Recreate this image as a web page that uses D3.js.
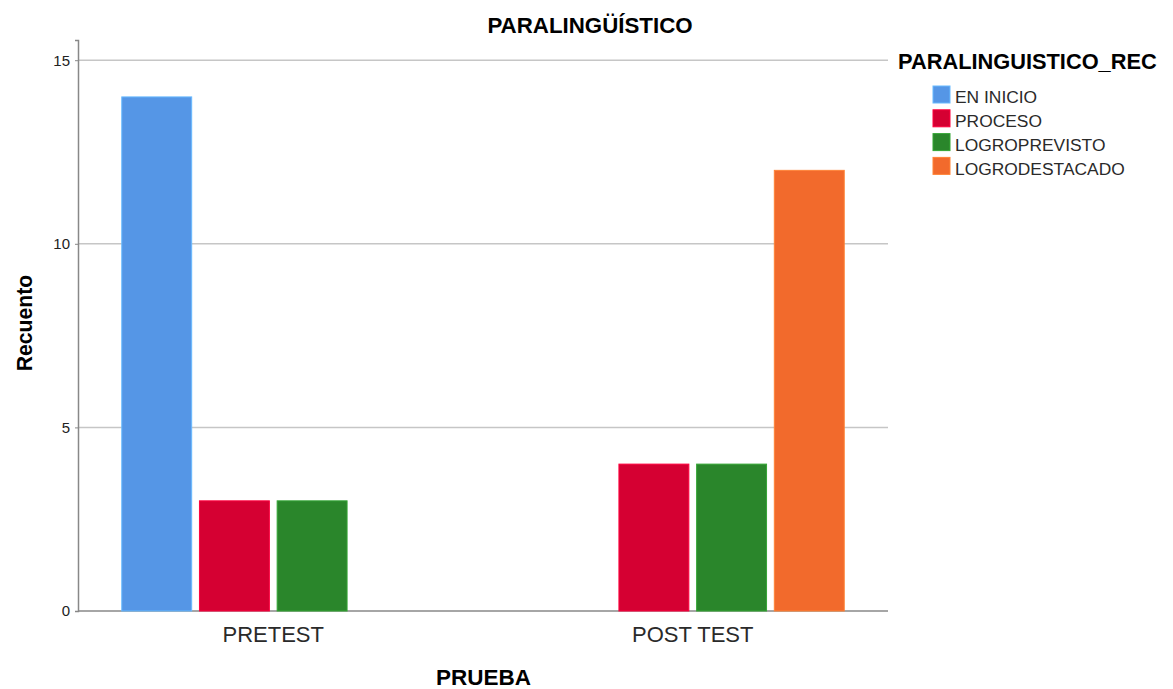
<!DOCTYPE html>
<html>
<head>
<meta charset="utf-8">
<script src="https://cdn.jsdelivr.net/npm/d3@7"></script>
<style>
  body { margin: 0; background: #fff; }
  text { font-family: "Liberation Sans", Arial, sans-serif; }
</style>
</head>
<body>
<svg id="chart" width="1173" height="689"></svg>
<script>
// data
const groups = ['PRETEST', 'POST TEST']
const levels = ['EN INICIO', 'PROCESO', 'LOGROPREVISTO', 'LOGRODESTACADO']
const pretest = [14, 3, 3, 0]
const posttest = [0, 4, 4, 12]
const yTicks = [0, 5, 10, 15]
const colors = ['#5596e6', '#d50032', '#2a862b', '#f26a2c']

const rows = [pretest, posttest]

// sizes
const plotL = 78, plotR = 888, plotT = 40, plotB = 611
const svg = d3.select('#chart')

const x0 = d3.scalePoint().domain(groups).range([plotL, plotR]).padding(0.4655)
const x1 = d3.scaleBand().domain(levels).range([-151.5, 151.5]).paddingInner(0.1)
const y = d3.scaleLinear().domain([0, 15.55]).range([plotB, plotT])

// gridlines
svg.append('g')
  .selectAll('line')
  .data(yTicks.filter(d => d > 0))
  .enter()
  .append('line')
  .attr('x1', plotL)
  .attr('x2', plotR)
  .attr('y1', d => y(d))
  .attr('y2', d => y(d))
  .attr('stroke', '#c6c6c6')
  .attr('stroke-width', 1.5)

// y axis
const yAxis = svg.append('g')
  .attr('transform', `translate(${plotL},0)`)
  .call(d3.axisLeft(y).tickValues(yTicks).tickSize(3).tickFormat(d3.format('d')))
yAxis.attr('font-size', 15).attr('font-family', '"Liberation Sans", Arial, sans-serif')
yAxis.select('.domain').attr('stroke', '#888').attr('stroke-width', 1.5)
yAxis.selectAll('.tick line').attr('stroke', '#888')
yAxis.selectAll('.tick text').attr('fill', '#222').attr('x', -8)

// x axis line
svg.append('line')
  .attr('x1', plotL).attr('x2', plotR)
  .attr('y1', plotB).attr('y2', plotB)
  .attr('stroke', '#888').attr('stroke-width', 1.5)

// bars
groups.forEach((g, gi) => {
  svg.append('g')
    .attr('transform', `translate(${x0(g)},0)`)
    .selectAll('rect')
    .data(levels.map((l, i) => ({ level: l, value: rows[gi][i], color: colors[i] })).filter(d => d.value > 0))
    .enter()
    .append('rect')
    .attr('x', d => x1(d.level))
    .attr('width', x1.bandwidth())
    .attr('y', d => y(d.value))
    .attr('height', d => y(0) - y(d.value))
    .attr('fill', d => d.color)
    .attr('stroke', d => d3.color(d.color).brighter(0.6))
    .attr('stroke-width', 1)
})

// x tick labels
svg.append('g')
  .selectAll('text')
  .data(groups)
  .enter()
  .append('text')
  .attr('x', d => x0(d))
  .attr('y', 641.5)
  .attr('text-anchor', 'middle')
  .attr('font-size', 22)
  .attr('fill', '#2a2a2a')
  .text(d => d)

// titles
svg.append('text')
  .attr('x', 590).attr('y', 33.3)
  .attr('text-anchor', 'middle')
  .attr('font-size', 22.3).attr('font-weight', 'bold')
  .text('PARALINGÜÍSTICO')

svg.append('text')
  .attr('x', 483.5).attr('y', 684.5)
  .attr('text-anchor', 'middle')
  .attr('font-size', 22.5).attr('font-weight', 'bold')
  .text('PRUEBA')

svg.append('text')
  .attr('transform', `translate(31.5,323) rotate(-90)`)
  .attr('text-anchor', 'middle')
  .attr('font-size', 21.2).attr('font-weight', 'bold')
  .text('Recuento')

// legend
svg.append('text')
  .attr('x', 898).attr('y', 69.3)
  .attr('font-size', 21.8).attr('font-weight', 'bold')
  .text('PARALINGUISTICO_REC')

const leg = svg.append('g')
  .selectAll('g')
  .data(levels)
  .enter()
  .append('g')
  .attr('transform', (d, i) => `translate(933,${86 + i * 23.8})`)

leg.append('rect')
  .attr('width', 17).attr('height', 17)
  .attr('fill', (d, i) => colors[i])
  .attr('stroke', (d, i) => d3.color(colors[i]).brighter(0.6))

leg.append('text')
  .attr('x', 22).attr('y', 17.3)
  .attr('font-size', 17.4)
  .attr('fill', '#2a2a2a')
  .text(d => d)
</script>
</body>
</html>
